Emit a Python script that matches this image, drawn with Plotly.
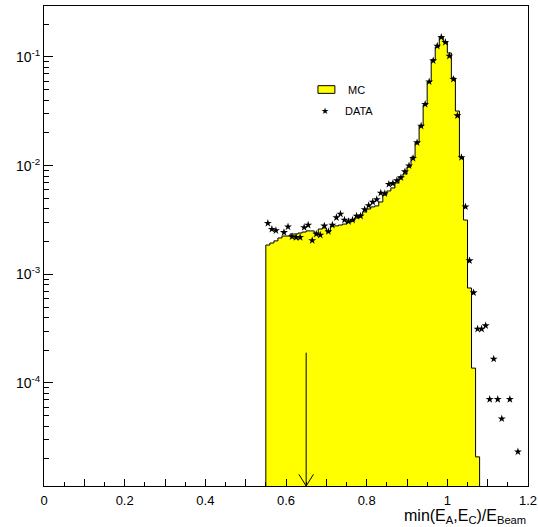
import numpy as np
import plotly.graph_objects as go

# ---- data ----
bin_width = 0.01
mc_first_edge = 0.55
mc_values = [
    1.86e-3, 1.94e-3, 2.03e-3, 2.16e-3, 2.25e-3, 2.25e-3, 2.35e-3, 2.35e-3, 2.40e-3, 2.45e-3,
    2.51e-3, 2.51e-3, 2.40e-3, 2.61e-3, 2.67e-3, 2.45e-3, 2.79e-3, 2.79e-3, 2.84e-3, 2.90e-3,
    3.03e-3, 3.10e-3, 3.30e-3, 3.52e-3, 3.75e-3, 3.99e-3, 4.17e-3, 4.26e-3, 4.63e-3, 5.37e-3,
    5.85e-3, 6.23e-3, 6.93e-3, 7.87e-3, 8.38e-3, 9.72e-3, 1.20e-2, 1.62e-2, 2.32e-2, 3.62e-2,
    5.89e-2, 9.38e-2, 0.1236, 0.1528, 0.1374, 0.1088, 0.0641, 0.0318, 1.20e-2, 3.16e-3,
    7.48e-4, 1.37e-4, 2.09e-5,
]
data_first_center = 0.555
data_values = [
    2.95e-3, 2.60e-3, 2.53e-3, None, 2.43e-3, 2.74e-3, 2.22e-3, 2.19e-3, 2.19e-3, 2.70e-3,
    2.84e-3, 2.05e-3, 2.35e-3, 2.30e-3, 2.79e-3, 2.48e-3, 2.84e-3, 3.33e-3, 3.59e-3, 3.16e-3,
    3.06e-3, 3.16e-3, 3.44e-3, 3.44e-3, 3.95e-3, 4.30e-3, 4.63e-3, 4.88e-3, 5.60e-3, 5.54e-3,
    6.74e-3, 6.87e-3, 7.30e-3, 7.75e-3, 8.80e-3, 9.99e-3, 1.169e-2, 1.627e-2, 2.317e-2, 3.670e-2,
    5.924e-2, 9.25e-2, 0.1262, 0.1518, 0.1366, 0.1021, 0.0624, 0.02883, 0.01189, 4.19e-3,
    1.335e-3, 6.78e-4, 3.14e-4, 3.14e-4, 3.37e-4, 7.08e-5, 1.664e-4, 7.08e-5, 4.69e-5, None,
    7.08e-5, None, 2.33e-5,
]
cut_value = 0.65
arrow_top = 1.9e-4

x_range = [0, 1.2]
y_log_range = [-4.948, -0.531]
x_major_step = 0.1
x_minor_step = 0.05
y_tick_vals = [1e-4, 1e-3, 1e-2, 1e-1]
y_tick_text = ["10<sup>-4</sup>", "10<sup>-3</sup>", "10<sup>-2</sup>", "10<sup>-1</sup>"]

# ---- build step outline for MC ----
n = len(mc_values)
edges = [round(mc_first_edge + i * bin_width, 4) for i in range(n + 1)]
floor_val = 1e-7
step_x = [edges[0]] + edges[:-1] + [edges[-1], edges[-1]]
step_y = [floor_val] + mc_values + [mc_values[-1], floor_val]

data_x = [round(data_first_center + i * bin_width, 4) for i in range(len(data_values))]

fig = go.Figure()
fig.add_trace(go.Scatter(
    x=step_x, y=step_y, mode="lines", line=dict(shape="hv", color="black", width=1),
    fill="toself", fillcolor="#ffff00", name="MC", showlegend=False, hoverinfo="skip",
))
fig.add_trace(go.Scatter(
    x=data_x, y=data_values, mode="markers",
    marker=dict(symbol="star", size=6, color="black", line=dict(width=0)),
    name="DATA", showlegend=False,
))

# cut arrow
y_bot = 10 ** y_log_range[0]
head_dx = 0.018
head_dy = 10 ** 0.107
fig.add_shape(type="line", x0=cut_value, x1=cut_value, y0=arrow_top, y1=y_bot,
              xref="x", yref="y", line=dict(color="black", width=1))
fig.add_shape(type="line", x0=cut_value - head_dx, x1=cut_value, y0=y_bot * head_dy, y1=y_bot,
              xref="x", yref="y", line=dict(color="black", width=1))
fig.add_shape(type="line", x0=cut_value + head_dx, x1=cut_value, y0=y_bot * head_dy, y1=y_bot,
              xref="x", yref="y", line=dict(color="black", width=1))

# manual legend
fig.add_shape(type="rect", xref="paper", yref="paper", x0=0.566, x1=0.601, y0=0.818, y1=0.834,
              fillcolor="#ffff00", line=dict(color="black", width=1))
fig.add_annotation(xref="paper", yref="paper", x=0.624, y=0.826, text="MC", showarrow=False,
                   xanchor="left", yanchor="middle", font=dict(size=11, color="black"))
fig.add_annotation(xref="paper", yref="paper", x=0.581, y=0.782, text="★", showarrow=False,
                   xanchor="center", yanchor="middle", font=dict(size=9, color="black", family="DejaVu Sans"))
fig.add_annotation(xref="paper", yref="paper", x=0.618, y=0.782, text="DATA", showarrow=False,
                   xanchor="left", yanchor="middle", font=dict(size=11, color="black"))

# x-axis title
fig.add_annotation(xref="paper", yref="paper", x=1.0, y=-0.064,
                   text="min(E<sub>A</sub>,E<sub>C</sub>)/E<sub>Beam</sub>",
                   showarrow=False, xanchor="right", yanchor="middle", font=dict(size=16, color="black"))

minor_y = [k * 10.0 ** d for d in range(-5, 0) for k in range(2, 10)]

fig.update_layout(
    width=538, height=527,
    margin=dict(l=44, r=10, t=6, b=41, autoexpand=False),
    paper_bgcolor="white", plot_bgcolor="white",
    font=dict(family="Liberation Sans, Arial, sans-serif", color="black", size=13),
    xaxis=dict(range=x_range, tickmode="linear", tick0=0, dtick=x_major_step, ticklabelstep=2,
               ticks="inside", ticklen=7, tickcolor="black", showgrid=False, zeroline=False,
               showline=True, linecolor="black", linewidth=1, mirror=True, automargin=False,
               tickfont=dict(size=13), ticklabelstandoff=2,
               minor=dict(tick0=0, dtick=x_minor_step,
                          ticks="inside", ticklen=4, tickcolor="black", showgrid=False)),
    yaxis=dict(type="log", range=y_log_range, tickmode="array", tickvals=y_tick_vals, ticktext=y_tick_text,
               ticks="inside", ticklen=9, tickcolor="black", showgrid=False, zeroline=False,
               showline=True, linecolor="black", linewidth=1, mirror=True, automargin=False,
               tickfont=dict(size=14),
               minor=dict(tickmode="array", tickvals=minor_y, ticks="inside", ticklen=5,
                          tickcolor="black", showgrid=False)),
)

fig.write_html("out.html", config={"displayModeBar": False},
               post_script="document.body.style.margin='0px';document.body.style.overflow='hidden';")
